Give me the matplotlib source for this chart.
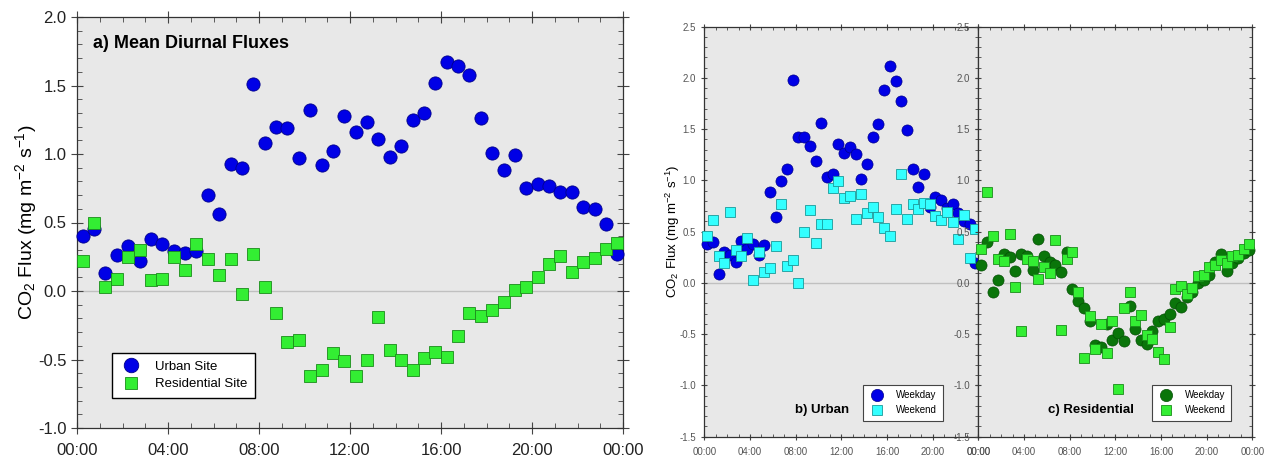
import numpy as np
import matplotlib
matplotlib.use('Agg')
import matplotlib.pyplot as plt
from matplotlib.ticker import MultipleLocator

plt.rcParams['font.family'] = ['Liberation Sans', 'DejaVu Sans']
plt.rcParams['mathtext.fontset'] = 'custom'
plt.rcParams['mathtext.rm'] = 'Liberation Sans'
plt.rcParams['mathtext.it'] = 'Liberation Sans:italic'
plt.rcParams['mathtext.bf'] = 'Liberation Sans:bold'

# half-hourly bins (bin centres, hours)
hours = np.arange(0.25, 24, 0.5)
hour_ticks = [0, 4, 8, 12, 16, 20, 24]
hour_labels = ['00:00', '04:00', '08:00', '12:00', '16:00', '20:00', '00:00']

# a) mean diurnal fluxes
urban = [0.40, 0.455, 0.13, 0.26, 0.33, 0.22, 0.38, 0.34, 0.29, 0.28, 0.29, 0.70,
         0.56, 0.93, 0.90, 1.51, 1.08, 1.20, 1.19, 0.97, 1.32, 0.92, 1.02, 1.28,
         1.16, 1.23, 1.11, 0.98, 1.06, 1.25, 1.30, 1.52, 1.67, 1.64, 1.58, 1.26,
         1.01, 0.88, 0.99, 0.75, 0.78, 0.77, 0.72, 0.72, 0.61, 0.60, 0.49, 0.27]
residential = [0.22, 0.50, 0.03, 0.085, 0.25, 0.30, 0.08, 0.09, 0.25, 0.15, 0.34, 0.23,
               0.12, 0.23, -0.02, 0.27, 0.03, -0.16, -0.37, -0.36, -0.62, -0.58, -0.455, -0.51,
               -0.62, -0.50, -0.19, -0.43, -0.50, -0.58, -0.49, -0.445, -0.48, -0.33, -0.16, -0.18,
               -0.14, -0.08, 0.005, 0.03, 0.10, 0.20, 0.255, 0.14, 0.21, 0.24, 0.31, 0.35]

# b) urban weekday / weekend
urban_weekday = [0.38, 0.40, 0.09, 0.30, 0.27, 0.20, 0.41, 0.33, 0.38, 0.27, 0.37, 0.89,
                 0.64, 0.99, 1.11, 1.98, 1.42, 1.42, 1.34, 1.19, 1.56, 1.03, 1.06, 1.36,
                 1.27, 1.33, 1.26, 1.01, 1.16, 1.42, 1.55, 1.88, 2.12, 1.97, 1.78, 1.49,
                 1.11, 0.94, 1.06, 0.74, 0.84, 0.81, 0.73, 0.77, 0.68, 0.60, 0.58, 0.19]
urban_weekend = [0.455, 0.61, 0.26, 0.19, 0.69, 0.32, 0.26, 0.44, 0.03, 0.30, 0.11, 0.15,
                 0.36, 0.77, 0.17, 0.22, 0.00, 0.50, 0.71, 0.39, 0.58, 0.58, 0.93, 0.995,
                 0.83, 0.85, 0.62, 0.865, 0.68, 0.74, 0.64, 0.54, 0.46, 0.72, 1.06, 0.62,
                 0.77, 0.72, 0.78, 0.77, 0.65, 0.61, 0.69, 0.59, 0.43, 0.66, 0.24, 0.53]

# c) residential weekday / weekend
res_weekday = [0.18, 0.40, -0.085, 0.03, 0.28, 0.25, 0.12, 0.28, 0.26, 0.13, 0.43, 0.26,
               0.20, 0.18, 0.11, 0.30, -0.06, -0.18, -0.24, -0.37, -0.61, -0.62, -0.40, -0.56,
               -0.49, -0.57, -0.22, -0.45, -0.56, -0.60, -0.47, -0.37, -0.35, -0.30, -0.20, -0.235,
               -0.14, -0.09, -0.005, 0.03, 0.08, 0.205, 0.28, 0.12, 0.19, 0.24, 0.29, 0.32]
res_weekend = [0.33, 0.885, 0.455, 0.23, 0.215, 0.48, -0.04, -0.47, 0.23, 0.215, 0.035, 0.155,
               0.10, 0.42, -0.46, 0.23, 0.30, -0.09, -0.73, -0.32, -0.64, -0.40, -0.68, -0.37,
               -1.03, -0.24, -0.09, -0.37, -0.315, -0.51, -0.55, -0.67, -0.745, -0.43, -0.06, -0.03,
               -0.105, -0.05, 0.065, 0.08, 0.155, 0.18, 0.22, 0.19, 0.26, 0.27, 0.335, 0.38]

ylab = r'CO$_2$ Flux (mg m$^{-2}$ s$^{-1}$)'
bg = '#e8e8e8'


def style(ax, ylim, tick_fs, tick_col, major_len, xpad):
    ax.set_facecolor(bg)
    ax.set_xlim(0, 24)
    ax.set_ylim(*ylim)
    ax.set_xticks(hour_ticks)
    ax.set_xticklabels(hour_labels)
    ax.xaxis.set_minor_locator(MultipleLocator(1))
    ax.yaxis.set_major_locator(MultipleLocator(0.5))
    ax.yaxis.set_minor_locator(MultipleLocator(0.1))
    ax.yaxis.set_major_formatter(plt.FuncFormatter(lambda v, p: '%.1f' % v))
    ax.tick_params(which='major', direction='inout', length=major_len, width=0.8,
                   top=True, right=True, labelsize=tick_fs, labelcolor=tick_col, color='#444444')
    ax.tick_params(axis='x', which='major', pad=xpad)
    ax.tick_params(which='minor', direction='in', length=major_len * 0.45, width=0.6,
                   top=True, right=True, color='#444444')
    for s in ax.spines.values():
        s.set_color('#333333')
        s.set_linewidth(0.9)
    ax.axhline(0, color='#c0c0c0', lw=1, zorder=1)


fig = plt.figure(figsize=(12.72, 4.62), dpi=100)

# panel a
ax1 = fig.add_axes([77 / 1272, 34 / 462, 546 / 1272, 411 / 462])
style(ax1, (-1.0, 2.0), 12, '#222222', 8, 7)
ax1.plot(hours, urban, 'o', ms=9.5, color='#0000e6', mec='#00008b', mew=0.6,
         label='Urban Site', clip_on=False, zorder=3)
ax1.plot(hours, residential, 's', ms=8.5, color='#33ee33', mec='#1a8c1a', mew=0.6,
         label='Residential Site', clip_on=False, zorder=4)
ax1.set_ylabel(ylab, fontsize=14, labelpad=-1)
ax1.text(0.03, 0.935, 'a) Mean Diurnal Fluxes', transform=ax1.transAxes,
         fontsize=13, fontweight='bold', va='center')
leg = ax1.legend(loc='lower left', bbox_to_anchor=(0.052, 0.058), fontsize=9.5,
                 fancybox=False, framealpha=1, edgecolor='black', borderpad=0.55,
                 handletextpad=0.9, handlelength=1.8, labelspacing=0.4, markerscale=1.1)
leg.get_frame().set_linewidth(1.0)

# panel b
ax2 = fig.add_axes([704.3 / 1272, 25.3 / 462, 274 / 1272, 410 / 462])
style(ax2, (-1.5, 2.5), 7, '#555555', 5, 5)
ax2.plot(hours, urban_weekday, 'o', ms=8, color='#0000e6', mec='#00008b', mew=0.5,
         label='Weekday', clip_on=False, zorder=3)
ax2.plot(hours, urban_weekend, 's', ms=7, color='#33ffff', mec='#1a9a9a', mew=0.6,
         label='Weekend', clip_on=False, zorder=4)
ax2.set_ylabel(ylab, fontsize=9.5, labelpad=-2)
ax2.text(0.428, 0.066, 'b) Urban', transform=ax2.transAxes, fontsize=9.5,
         fontweight='bold', ha='center', va='center')
leg = ax2.legend(loc='lower left', bbox_to_anchor=(0.561, 0.026), fontsize=7,
                 fancybox=False, framealpha=1, edgecolor='#444444', borderpad=0.6,
                 handletextpad=1.0, handlelength=1.8, labelspacing=0.5, markerscale=1.1)
leg.get_frame().set_linewidth(0.8)

# panel c
ax3 = fig.add_axes([978.3 / 1272, 25.3 / 462, 274 / 1272, 410 / 462])
style(ax3, (-1.5, 2.5), 7, '#555555', 5, 5)
ax3.plot(hours, res_weekday, 'o', ms=8, color='#0a750a', mec='#055005', mew=0.5,
         label='Weekday', clip_on=False, zorder=3)
ax3.plot(hours, res_weekend, 's', ms=7, color='#33ee33', mec='#1a8c1a', mew=0.6,
         label='Weekend', clip_on=False, zorder=4)
ax3.text(0.412, 0.066, 'c) Residential', transform=ax3.transAxes, fontsize=9.5,
         fontweight='bold', ha='center', va='center')
leg = ax3.legend(loc='lower left', bbox_to_anchor=(0.615, 0.026), fontsize=7,
                 fancybox=False, framealpha=1, edgecolor='#444444', borderpad=0.6,
                 handletextpad=1.0, handlelength=1.8, labelspacing=0.5, markerscale=1.1)
leg.get_frame().set_linewidth(0.8)

fig.savefig('out.png', dpi=100)
